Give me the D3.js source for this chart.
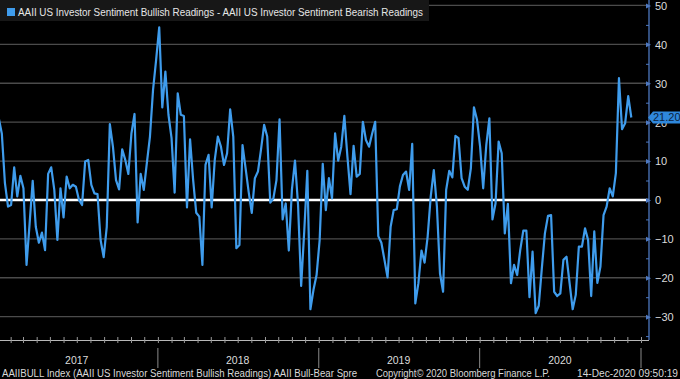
<!DOCTYPE html>
<html>
<head>
<meta charset="utf-8">
<script src="https://cdn.jsdelivr.net/npm/d3@7"></script>
<style>
  html, body { margin: 0; padding: 0; background: #000; }
  svg { display: block; }
  text { font-family: "Liberation Sans", Arial, sans-serif; }
</style>
</head>
<body>
<svg id="chart" width="680" height="379"></svg>
<script>
// weekly AAII bull-bear spread, first reading Thu 5-Jan-2017
const firstWeek = new Date(2017, 0, 5);
const spread = [
  21, 17, 4.3, -1.7, -1.3, 8.4, 0.9, 6.2, 3, -16.7,
  -6, 4.9, -6.9, -11, -8.4, -12.9, 6.7, 8.4, 2.6, -10.3,
  3, -4.5, 6, 3, 3.9, 3.4, 0, -1.3, 9.9, 10.3,
  3.9, 1.7, 1.5, -10.3, -14.7, -6.9, 19.5, 13.7, 5.1, 2.7,
  13, 10.3, 6.7, 17.1, 22.1, -5.8, 6.7, 2.6, 9.5, 16.3,
  28.3, 36, 44.4, 23.8, 33, 21.9, 15.9, 1.9, 27.4, 21.9,
  21.6, -1.9, 15.6, 5.1, -3.3, -4.3, -16.7, 9, 11.6, -1.9,
  10.3, 16.3, 13.7, 9, 12, 23.3, 16.3, -12.4, -11.6, 14.1,
  8.1, 2, -3.3, 5.6, 7.3, 13, 19.3, 16.3, -0.7, 0.4,
  5.1, 20.7, -5, -0.9, -13, 2.6, 10.1, -1.3, -22.1, -8.1,
  7.5, -28.1, -23.1, -19.3, -10.3, 9.3, -2.6, 5.6, 0.4, 17.1,
  10.1, 13.7, 21.6, 11.1, 1.5, 13.9, 6, 6.7, 20.1, 15.4,
  13.7, 17, 20.1, -9.3, -11, -15.4, -19.9, -6.9, -2.6, -2.4,
  3.5, 6.4, 7.3, 2.6, 14.4, -26.6, -21.4, -13, -16.1, -9.4,
  0.9, 7.7, -1.7, -18.9, -23.6, 2.6, 7.5, 5.8, 16.5, 15.9,
  5.6, 3.4, 2.6, 8.1, 23.8, 20.6, 13.7, 3, 14.1, 21,
  -5, -0.9, 15, 12, -8.6, -1, -21.4, -16.7, -19.3, -12.9,
  -7.9, -7.9, -25, -13.3, -29.1, -27.2, -17.6, -8.6, -4.1, -3.9,
  -23.6, -24.7, -24, -15.4, -14.6, -21.4, -28.1, -24.4, -12, -12,
  -7.3, -10.3, -24.7, -8.1, -21.3, -17.1, -3.9, -1.7, 3, 0.9,
  6.9, 31.3, 18.2, 19.7, 26.7, 21.2
];
const yTicks = [-30, -20, -10, 0, 10, 20, 30, 40, 50];
const yMinorTicks = [-35, -25, -15, -5, 5, 15, 25, 35, 45];
const years = [2017, 2018, 2019, 2020];
const legendLabel = 'AAII US Investor Sentiment Bullish Readings - AAII US Investor Sentiment Bearish Readings';
const lastLabel = '21.20';
const footerLeft = 'AAIIBULL Index (AAII US Investor Sentiment Bullish Readings) AAII Bull-Bear Spre';
const footerMid = 'Copyright\u00A9 2020 Bloomberg Finance L.P.';
const footerRight = '14-Dec-2020 09:50:19';

const LINE = '#3f9cec';
const AXIS = '#4d78c0';
const plotRight = 649;
const plotBottom = 340;

const svg = d3.select('#chart');
svg.append('rect').attr('width', 680).attr('height', 379).attr('fill', '#000');

const data = spread.map((v, i) => ({ date: d3.timeWeek.offset(firstWeek, i), value: v }));

const x = d3.scaleTime()
  .domain([new Date(2017, 0, 1), new Date(2021, 0, 1)])
  .range([-3, 641]);
const y = d3.scaleLinear()
  .domain([-36, 51.4])
  .range([plotBottom, 0]);

// horizontal grid
svg.append('g')
  .selectAll('line')
  .data(yTicks.filter(d => d !== 0))
  .join('line')
  .attr('x1', 0).attr('x2', plotRight - 2)
  .attr('y1', d => y(d)).attr('y2', d => y(d))
  .attr('stroke', '#4b4b4b')
  .attr('stroke-width', 1.3);

// zero line
svg.append('line')
  .attr('x1', 0).attr('x2', plotRight)
  .attr('y1', y(0)).attr('y2', y(0))
  .attr('stroke', '#fff')
  .attr('stroke-width', 2.5);

// series
svg.append('defs').append('clipPath').attr('id', 'plot')
  .append('rect').attr('x', 0).attr('y', 0).attr('width', plotRight).attr('height', plotBottom);

svg.append('path')
  .datum(data)
  .attr('clip-path', 'url(#plot)')
  .attr('fill', 'none')
  .attr('stroke', LINE)
  .attr('stroke-width', 2.2)
  .attr('stroke-linejoin', 'round')
  .attr('d', d3.line().x(d => x(d.date)).y(d => y(d.value)));

// right axis
const yAxis = svg.append('g')
  .attr('transform', `translate(${plotRight},0)`)
  .call(d3.axisRight(y).tickValues(yTicks).tickSize(0).tickPadding(6));
yAxis.select('.domain').remove();
yAxis.selectAll('text')
  .attr('fill', '#dcdcdc')
  .attr('font-size', 11)
  .attr('dy', '0.35em');
yAxis.selectAll('.tick').append('path')
  .attr('d', 'M-3,-2.5L2,0L-3,2.5Z')
  .attr('fill', AXIS);

svg.append('g')
  .attr('transform', `translate(${plotRight},0)`)
  .call(d3.axisLeft(y).tickValues(yMinorTicks).tickSize(3).tickFormat(''))
  .call(g => g.select('.domain').remove())
  .selectAll('line').attr('stroke', AXIS);

svg.append('line')
  .attr('x1', plotRight).attr('x2', plotRight)
  .attr('y1', 0).attr('y2', plotBottom)
  .attr('stroke', AXIS)
  .attr('stroke-width', 1.3);

// bottom axis with month ticks
const xAxis = svg.append('g')
  .attr('transform', `translate(0,${plotBottom})`)
  .call(d3.axisBottom(x).ticks(d3.timeMonth.every(1)).tickFormat('').tickSizeOuter(0));
xAxis.select('.domain')
  .attr('stroke', '#b8b8b8')
  .attr('d', `M0,0.5H${plotRight}`);
xAxis.selectAll('.tick line')
  .attr('stroke', '#9a9a9a')
  .attr('y1', -3).attr('y2', 3);

// year separators and labels
svg.append('g')
  .selectAll('line')
  .data(years)
  .join('line')
  .attr('x1', d => x(new Date(d + 1, 0, 1)))
  .attr('x2', d => x(new Date(d + 1, 0, 1)))
  .attr('y1', 348).attr('y2', 368)
  .attr('stroke', '#8a8a8a');

svg.append('g')
  .selectAll('text')
  .data(years)
  .join('text')
  .attr('x', d => x(new Date(d, 6, 1)))
  .attr('y', 364)
  .attr('text-anchor', 'middle')
  .attr('fill', '#dcdcdc')
  .attr('font-size', 10.5)
  .text(d => d);

// last value tag
const last = data[data.length - 1];
const tagY = y(last.value);
svg.append('path')
  .attr('d', `M${plotRight - 1},${tagY}L${plotRight + 4},${tagY - 6}H680V${tagY + 6}H${plotRight + 4}Z`)
  .attr('fill', '#2f88dc');
svg.append('text')
  .attr('x', 653).attr('y', tagY + 4)
  .attr('fill', '#0c2240')
  .attr('font-size', 11)
  .text(lastLabel);

// legend
svg.append('rect')
  .attr('x', 0).attr('y', 0).attr('width', 429).attr('height', 21)
  .attr('fill', '#171717');
svg.append('rect')
  .attr('x', 7).attr('y', 8).attr('width', 8).attr('height', 8)
  .attr('fill', LINE);
svg.append('text')
  .attr('x', 18).attr('y', 16)
  .attr('fill', '#e6e6e6')
  .attr('font-size', 11)
  .attr('textLength', 405)
  .attr('lengthAdjust', 'spacingAndGlyphs')
  .text(legendLabel);

// footer
const footer = [
  { text: footerLeft, x: 2, w: 355 },
  { text: footerMid, x: 376, w: 174 },
  { text: footerRight, x: 577, w: 101 }
];
svg.append('g')
  .selectAll('text')
  .data(footer)
  .join('text')
  .attr('x', d => d.x)
  .attr('y', 377)
  .attr('fill', '#d8d8d8')
  .attr('font-size', 10)
  .attr('textLength', d => d.w)
  .attr('lengthAdjust', 'spacingAndGlyphs')
  .text(d => d.text);
</script>
</body>
</html>
